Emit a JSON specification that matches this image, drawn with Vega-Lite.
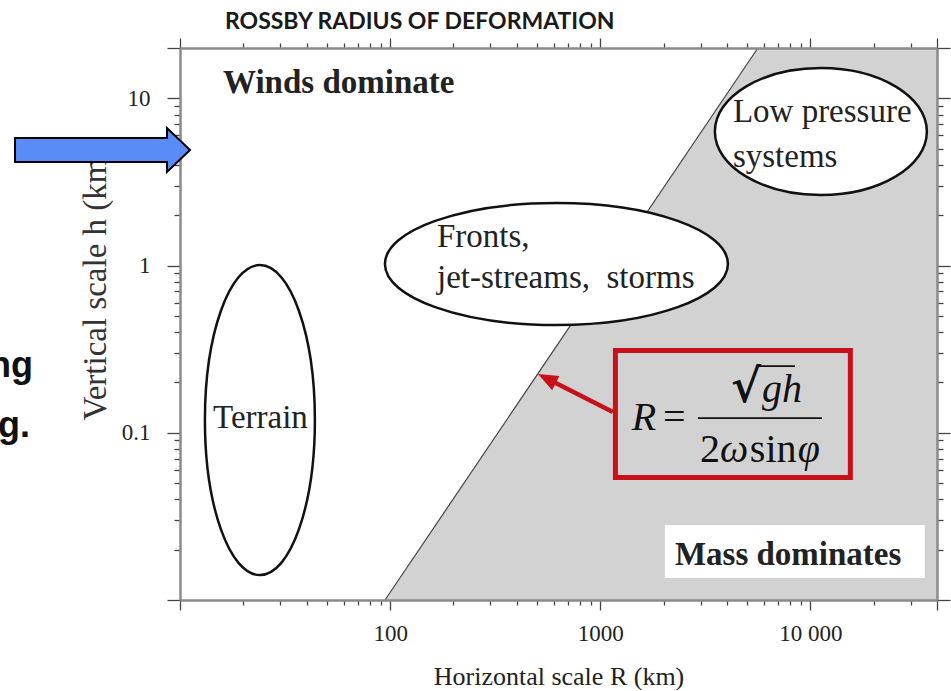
{
  "$schema": "https://vega.github.io/schema/vega-lite/v6.json",
  "width": 757,
  "height": 552,
  "autosize": {"type": "none"},
  "padding": {"left": 180, "top": 48, "right": 14, "bottom": 91},
  "background": "white",
  "config": {"view": {"stroke": null}},
  "title": {"text": "ROSSBY  RADIUS  OF DEFORMATION", "anchor": "start", "frame": "group", "dx": 45, "offset": 3, "font": "Lato", "fontSize": 23, "fontWeight": "bold", "color": "#1a1a1a"},
  "datasets": {
    "region": [
      {"x": 94.5, "y": 0.01, "ybase": 0.01},
      {"x": 5621, "y": 20, "ybase": 0.01},
      {"x": 40000, "y": 20, "ybase": 0.01}
    ],
    "edge": [
      {"x": 94.5, "y": 0.01},
      {"x": 5621, "y": 20}
    ],
    "ellipses": [
      {"name": "Terrain", "x": 24.0, "y": 0.1191},
      {"name": "Fronts", "x": 618.3, "y": 1.021},
      {"name": "Low pressure", "x": 11207, "y": 6.334}
    ],
    "labels": [
      {"label": "Fronts,", "x": 167, "y": 1.2909},
      {"label": "jet-streams,\u00a0 storms", "x": 167, "y": 0.7338},
      {"label": "Low pressure", "x": 4274, "y": 7.219},
      {"label": "systems", "x": 4274, "y": 3.885},
      {"label": "Terrain", "x": 14.36, "y": 0.10675}
    ],
    "boldLabels": [
      {"label": "Winds dominate", "x": 16.02, "y": 10.76},
      {"label": "Mass dominates", "x": 2264, "y": 0.01618}
    ],
    "massBox": [{"x": 2029, "x2": 35015, "y": 0.02806, "y2": 0.01353}],
    "redBox": [{"x": 1180, "x2": 15482, "y": 0.3103, "y2": 0.05399}],
    "redArrow": [{"x": 1147.9, "y": 0.133, "x2": 556.7, "y2": 0.211}],
    "redHead": [{"x": 556.7, "y": 0.211}],
    "formulaUpright": [
      {"label": "=", "x": 1985, "y": 0.10384},
      {"label": "2", "x": 2977, "y": 0.06682},
      {"label": "sin", "x": 5148, "y": 0.06682}
    ],
    "radical": [
      {"label": "√", "x": 4182, "y": 0.15272}
    ],
    "formulaItalic": [
      {"label": "R", "x": 1413, "y": 0.10384},
      {"label": "gh", "x": 5872, "y": 0.15272},
      {"label": "ω", "x": 3707, "y": 0.06682},
      {"label": "φ", "x": 8700, "y": 0.06682}
    ],
    "formulaBars": [
      {"x": 2913, "x2": 11330, "y": 0.12248},
      {"x": 5500, "x2": 8431, "y": 0.25067}
    ],
    "blueArrow": [{"x": 4.279, "y": 4.909}],
    "slideText": [
      {"label": "ng", "x": 1.999, "y": 0.2155},
      {"label": "g.", "x": 1.934, "y": 0.09429}
    ]
  },
  "encoding": {
    "x": {"field": "x", "type": "quantitative", "scale": {"type": "log", "domain": [10, 40000], "nice": false}, "axis": null},
    "y": {"field": "y", "type": "quantitative", "scale": {"type": "log", "domain": [0.01, 20], "nice": false}, "axis": null}
  },
  "layer": [
    {
      "data": {"name": "region"},
      "mark": {"type": "area", "color": "#d2d2d2", "opacity": 1},
      "encoding": {
        "x": {"field": "x", "type": "quantitative", "scale": {"type": "log", "domain": [10, 40000], "nice": false},
          "axis": {
            "orient": "bottom",
            "values": [10,20,30,40,50,60,70,80,90,100,200,300,400,500,600,700,800,900,1000,2000,3000,4000,5000,6000,7000,8000,9000,10000,20000,30000,40000],
            "labelExpr": "datum.value == 100 ? '100' : datum.value == 1000 ? '1000' : datum.value == 10000 ? '10 000' : ''",
            "tickSize": {"condition": {"test": "indexof([10,100,1000,10000,40000], datum.value) >= 0", "value": 10}, "value": 5},
            "domainColor": "#8a8a8a", "domainWidth": 2.5, "tickColor": "#444", "tickWidth": 1.3,
            "labelFont": "Liberation Serif", "labelFontSize": 23, "labelColor": "#222", "labelPadding": 12,
            "labelFlush": false, "labelOverlap": false, "labelBound": false,
            "title": "Horizontal scale R (km)", "titleFont": "Liberation Serif", "titleFontSize": 26, "titleFontWeight": "normal", "titleColor": "#222",
            "titleY": 84, "titleBaseline": "alphabetic",
            "grid": false, "zindex": 1
          }
        },
        "y": {"field": "y", "type": "quantitative", "scale": {"type": "log", "domain": [0.01, 20], "nice": false},
          "axis": {
            "orient": "left",
            "values": [0.01,0.02,0.03,0.04,0.05,0.06,0.07,0.08,0.09,0.1,0.2,0.3,0.4,0.5,0.6,0.7,0.8,0.9,1,2,3,4,5,6,7,8,9,10,20],
            "labelExpr": "datum.value == 10 ? '10' : datum.value == 1 ? '1' : datum.value == 0.1 ? '0.1' : ''",
            "tickSize": {"condition": {"test": "indexof([0.01,0.1,1,10,20], datum.value) >= 0", "value": 13}, "value": 6},
            "domainColor": "#8a8a8a", "domainWidth": 2.5, "tickColor": "#444", "tickWidth": 1.3,
            "labelFont": "Liberation Serif", "labelFontSize": 23, "labelColor": "#222", "labelPadding": 17,
            "labelFlush": false, "labelOverlap": false, "labelBound": false,
            "title": "Vertical scale h (km)", "titleFont": "Liberation Serif", "titleFontSize": 33, "titleFontWeight": "normal", "titleColor": "#333",
            "titleX": -85, "titleY": 235, "titleAngle": -90, "titleAlign": "center", "titleBaseline": "middle",
            "grid": false, "zindex": 0
          }
        },
        "y2": {"field": "ybase"}
      }
    },
    {
      "data": {"name": "edge"},
      "mark": {"type": "line", "color": "#444", "strokeWidth": 1.2},
      "encoding": {
        "x": {"field": "x", "type": "quantitative", "scale": {"type": "log", "domain": [10, 40000], "nice": false},
          "axis": {
            "orient": "top",
            "values": [10,20,30,40,50,60,70,80,90,100,200,300,400,500,600,700,800,900,1000,2000,3000,4000,5000,6000,7000,8000,9000,10000,20000,30000,40000],
            "labels": false, "title": null,
            "tickSize": {"condition": {"test": "indexof([10,100,1000,10000,40000], datum.value) >= 0", "value": 10}, "value": 5},
            "domainColor": "#8a8a8a", "domainWidth": 2.5, "tickColor": "#444", "tickWidth": 1.3,
            "grid": false, "zindex": 1
          }
        },
        "y": {"field": "y", "type": "quantitative", "scale": {"type": "log", "domain": [0.01, 20], "nice": false},
          "axis": {
            "orient": "right",
            "values": [0.01,0.02,0.03,0.04,0.05,0.06,0.07,0.08,0.09,0.1,0.2,0.3,0.4,0.5,0.6,0.7,0.8,0.9,1,2,3,4,5,6,7,8,9,10,20],
            "labels": false, "title": null,
            "tickSize": {"condition": {"test": "indexof([0.01,0.1,1,10,20], datum.value) >= 0", "value": 13}, "value": 6},
            "domainColor": "#8a8a8a", "domainWidth": 2.5, "tickColor": "#444", "tickWidth": 1.3,
            "grid": false, "zindex": 1
          }
        }
      }
    },
    {
      "data": {"name": "massBox"},
      "mark": {"type": "rect", "fill": "white"},
      "encoding": {"x2": {"field": "x2"}, "y2": {"field": "y2"}}
    },
    {
      "data": {"name": "ellipses"},
      "transform": [{"filter": "datum.name == 'Terrain'"}],
      "mark": {"type": "point", "shape": "M -0.3548 0 A 0.3548 1 0 1 1 0.3548 0 A 0.3548 1 0 1 1 -0.3548 0 Z", "size": 96100, "filled": true, "fill": "white", "stroke": "#111", "strokeWidth": 2.5, "opacity": 1}
    },
    {
      "data": {"name": "ellipses"},
      "transform": [{"filter": "datum.name == 'Fronts'"}],
      "mark": {"type": "point", "shape": "M -1 0 A 1 0.3557 0 1 1 1 0 A 1 0.3557 0 1 1 -1 0 Z", "size": 117649, "filled": true, "fill": "white", "stroke": "#111", "strokeWidth": 2.5, "opacity": 1}
    },
    {
      "data": {"name": "ellipses"},
      "transform": [{"filter": "datum.name == 'Low pressure'"}],
      "mark": {"type": "point", "shape": "M -1 0 A 1 0.599 0 1 1 1 0 A 1 0.599 0 1 1 -1 0 Z", "size": 44944, "filled": true, "fill": "white", "stroke": "#111", "strokeWidth": 2.5, "opacity": 1}
    },
    {
      "data": {"name": "labels"},
      "mark": {"type": "text", "align": "left", "baseline": "alphabetic", "font": "Liberation Serif", "fontSize": 33, "color": "#222"},
      "encoding": {"text": {"field": "label"}}
    },
    {
      "data": {"name": "boldLabels"},
      "mark": {"type": "text", "align": "left", "baseline": "alphabetic", "font": "Liberation Serif", "fontSize": 33, "fontWeight": "bold", "color": "#222"},
      "encoding": {"text": {"field": "label"}}
    },
    {
      "data": {"name": "redBox"},
      "mark": {"type": "rect", "fillOpacity": 0, "stroke": "#c8101a", "strokeWidth": 5},
      "encoding": {"x2": {"field": "x2"}, "y2": {"field": "y2"}}
    },
    {
      "data": {"name": "redArrow"},
      "mark": {"type": "rule", "color": "#c8101a", "strokeWidth": 4.5},
      "encoding": {"x2": {"field": "x2"}, "y2": {"field": "y2"}}
    },
    {
      "data": {"name": "redHead"},
      "mark": {"type": "point", "shape": "M 1 0 L -1 -0.8 L -1 0.8 Z", "size": 400, "angle": 207, "filled": true, "fill": "#c8101a", "opacity": 1}
    },
    {
      "data": {"name": "formulaUpright"},
      "mark": {"type": "text", "align": "left", "baseline": "alphabetic", "font": "Liberation Serif", "fontSize": 40, "color": "#111"},
      "encoding": {"text": {"field": "label"}}
    },
    {
      "data": {"name": "radical"},
      "mark": {"type": "text", "align": "left", "baseline": "alphabetic", "font": "DejaVu Serif", "fontSize": 46, "fontWeight": "bold", "color": "#111"},
      "encoding": {"text": {"field": "label"}}
    },
    {
      "data": {"name": "formulaItalic"},
      "mark": {"type": "text", "align": "left", "baseline": "alphabetic", "font": "Liberation Serif", "fontSize": 40, "fontStyle": "italic", "color": "#111"},
      "encoding": {"text": {"field": "label"}}
    },
    {
      "data": {"name": "formulaBars"},
      "mark": {"type": "rule", "color": "#111", "strokeWidth": 1.8},
      "encoding": {"x2": {"field": "x2"}}
    },
    {
      "data": {"name": "blueArrow"},
      "mark": {"type": "point", "shape": "M -1 -0.137 L 0.737 -0.137 L 0.737 -0.251 L 1 0 L 0.737 0.251 L 0.737 0.137 L -1 0.137 Z", "size": 30625, "filled": true, "fill": "#5a8cf8", "stroke": "#000", "strokeWidth": 2, "opacity": 1}
    },
    {
      "data": {"name": "slideText"},
      "mark": {"type": "text", "align": "right", "baseline": "alphabetic", "font": "Liberation Sans", "fontSize": 36, "fontWeight": "bold", "color": "#111"},
      "encoding": {"text": {"field": "label"}}
    }
  ],
  "resolve": {"axis": {"x": "independent", "y": "independent"}}
}
